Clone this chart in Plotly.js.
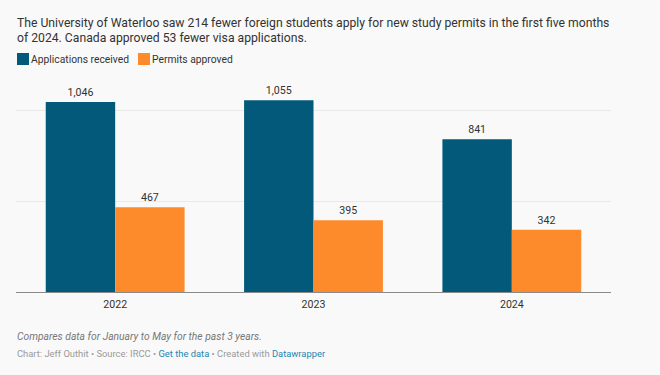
<!DOCTYPE html>
<html><head><meta charset="utf-8">
<script src="https://cdn.plot.ly/plotly-3.0.1.min.js"></script>
<style>html,body{margin:0;padding:0;background:#f9f9f9;}#chart{width:660px;height:375px;}</style>
</head><body><div id="chart"></div>
<script>
const years = ['2022', '2023', '2024'];
const applications = [1046, 1055, 841];
const permits = [467, 395, 342];
const seriesNames = ['Applications received', 'Permits approved'];
const titleLines = ['The University of Waterloo saw 214 fewer foreign students apply for new study permits in the first five months', 'of 2024. Canada approved 53 fewer visa applications.'];
const noteText = 'Compares data for January to May for the past 3 years.';

const W = 660, H = 375, L = 16, R = 49, T = 74, B = 83;
const pw = W - L - R, ph = H - T - B;
const px = x => (x - L) / pw;
const py = y => (H - B - y) / ph;

const font = 'Roboto, "Noto Sans", sans-serif';
const blue = '#02597a', orange = '#fd8b2c';

const traces = [
  {type: 'bar', x: years, y: applications, name: seriesNames[0], marker: {color: blue},
   texttemplate: '%{y:,}', textposition: 'outside', cliponaxis: false,
   textfont: {size: 10.6, color: '#333', family: font}, hoverinfo: 'skip', showlegend: false},
  {type: 'bar', x: years, y: permits, name: seriesNames[1], marker: {color: orange},
   texttemplate: '%{y:,}', textposition: 'outside', cliponaxis: false,
   textfont: {size: 10.6, color: '#333', family: font}, hoverinfo: 'skip', showlegend: false}
];

const layout = {
  width: W, height: H,
  margin: {l: L, r: R, t: T, b: B},
  paper_bgcolor: '#f9f9f9', plot_bgcolor: '#f9f9f9',
  barmode: 'group', bargap: 0.3, bargroupgap: 0,
  font: {family: font, color: '#333'},
  xaxis: {type: 'category', showgrid: false, ticks: '', ticklabelstandoff: 4, tickfont: {size: 10.6, color: '#333'}, showline: false, zeroline: false},
  yaxis: {range: [0, 1200], tickvals: [0, 500, 1000], showticklabels: false, gridcolor: '#e9e9e9', gridwidth: 1,
          zeroline: true, zerolinecolor: '#8a8a8a', zerolinewidth: 1, fixedrange: true},
  showlegend: false,
  shapes: [
    {type: 'rect', xref: 'paper', yref: 'paper', x0: px(17), x1: px(29), y0: py(53), y1: py(65), fillcolor: blue, line: {width: 0}},
    {type: 'rect', xref: 'paper', yref: 'paper', x0: px(138), x1: px(150), y0: py(53), y1: py(65), fillcolor: orange, line: {width: 0}}
  ],
  annotations: [
    {xref: 'paper', yref: 'paper', x: px(15), y: py(22.5), xanchor: 'left', yanchor: 'middle', showarrow: false,
     text: titleLines[0], font: {size: 12.2, color: '#333', family: font}},
    {xref: 'paper', yref: 'paper', x: px(15), y: py(38), xanchor: 'left', yanchor: 'middle', showarrow: false,
     text: titleLines[1], font: {size: 12.2, color: '#333', family: font}},
    {xref: 'paper', yref: 'paper', x: px(29), y: py(59), xanchor: 'left', yanchor: 'middle', showarrow: false,
     text: seriesNames[0], font: {size: 10.3, color: '#333', family: font}},
    {xref: 'paper', yref: 'paper', x: px(150), y: py(59), xanchor: 'left', yanchor: 'middle', showarrow: false,
     text: seriesNames[1], font: {size: 10.3, color: '#333', family: font}},
    {xref: 'paper', yref: 'paper', x: px(15), y: py(336), xanchor: 'left', yanchor: 'middle', showarrow: false,
     text: '<i>' + noteText + '</i>', font: {size: 10.3, color: '#777', family: font}},
    {xref: 'paper', yref: 'paper', x: px(15), y: py(353), xanchor: 'left', yanchor: 'middle', showarrow: false,
     text: 'Chart: Jeff Outhit • Source: IRCC • <span style="color:#1d85b4">Get the data</span> • Created with <span style="color:#1d85b4">Datawrapper</span>',
     font: {size: 9.4, color: '#999', family: font}}
  ]
};

Plotly.newPlot('chart', traces, layout, {displayModeBar: false, staticPlot: true});
</script>
</body></html>
